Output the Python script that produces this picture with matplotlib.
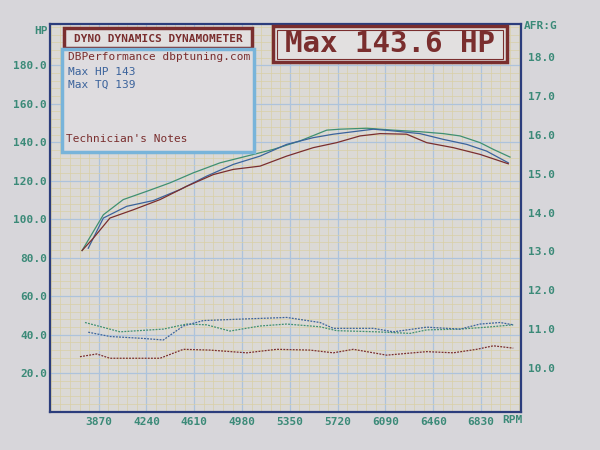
import numpy as np
import matplotlib
matplotlib.use("Agg")
import matplotlib.pyplot as plt
from matplotlib.patches import Rectangle

# ---------------------------------------------------------------------------
# dyno run data (rpm, hp) and (rpm, afr)
# ---------------------------------------------------------------------------
rpm_ticks = [3870, 4240, 4610, 4980, 5350, 5720, 6090, 6460, 6830]
hp_ticks = [20, 40, 60, 80, 100, 120, 140, 160, 180]
afr_ticks = [10, 11, 12, 13, 14, 15, 16, 17, 18]

# power runs
rpm_green = [3741, 3906, 4060, 4242, 4422, 4602, 4809, 5016, 5222, 5428,
             5635, 5738, 5945, 6151, 6357, 6538, 6667, 6822, 6925, 7054]
hp_green = [83.7, 102.3, 110.2, 114.5, 118.9, 124.1, 129.3, 132.8, 136.3, 140.7,
            146.3, 146.8, 147.3, 146.3, 145.5, 144.5, 143.3, 139.8, 136.3, 132.3]

rpm_blue = [3789, 3906, 4087, 4293, 4499, 4706, 4912, 5119, 5325, 5531,
            5686, 5841, 5996, 6151, 6357, 6538, 6719, 6873, 7041]
hp_blue = [84.9, 100.6, 106.7, 109.7, 115.4, 122.4, 128.5, 132.8, 138.9, 142.4,
           144.2, 145.5, 146.8, 145.9, 144.5, 141.5, 138.9, 135.4, 129.3]

rpm_red = [3741, 3828, 3957, 4138, 4345, 4551, 4757, 4912, 5119, 5325, 5531,
           5712, 5893, 6048, 6254, 6409, 6615, 6822, 7041]
hp_red = [83.7, 90.1, 100.6, 104.9, 110.2, 117.1, 123.2, 125.9, 127.6, 132.8, 137.2,
          139.8, 143.3, 144.5, 144.2, 139.8, 137.2, 133.7, 128.8]

# air/fuel ratio runs
rpm_afr_green = [3764, 4035, 4370, 4551, 4706, 4886, 5119, 5325, 5583, 5712,
                 6022, 6280, 6409, 6667, 6873, 7079]
afr_green = [11.17, 10.93, 11.00, 11.13, 11.11, 10.95, 11.08, 11.13, 11.06, 10.96,
             10.93, 10.89, 10.98, 11.00, 11.05, 11.11]

rpm_afr_blue = [3789, 3957, 4215, 4370, 4525, 4680, 4912, 5325, 5583, 5686,
                5996, 6151, 6409, 6667, 6822, 6977, 7079]
afr_blue = [10.92, 10.81, 10.76, 10.72, 11.08, 11.22, 11.25, 11.30, 11.17, 11.02,
            11.02, 10.93, 11.05, 11.00, 11.13, 11.17, 11.11]

rpm_afr_red = [3725, 3855, 3957, 4345, 4525, 4732, 5016, 5248, 5506, 5686,
               5841, 6099, 6409, 6615, 6796, 6925, 7079]
afr_red = [10.29, 10.36, 10.25, 10.25, 10.48, 10.46, 10.39, 10.48, 10.46, 10.39,
           10.48, 10.33, 10.42, 10.39, 10.48, 10.57, 10.51]

# colours
GREEN = "#3f9072"
BLUE = "#3b639c"
RED = "#7a2e2e"
TEAL = "#3b8a78"
FRAME = "#2b3d7c"
PAPER = "#d7d6da"

W, H = 600, 450


def fx(x):
    return x / W


def fy(y):
    return 1 - y / H


plt.rcParams['font.family'] = ['DejaVu Sans Mono']

fig = plt.figure(figsize=(6, 4.5), dpi=100, facecolor=PAPER)
ax = fig.add_axes([fx(50), fy(411.5), (521 - 50) / W, (411.5 - 24) / H])
ax.set_facecolor("#dbd9d6")

ax.set_xlim(3493, 7139)
ax.set_ylim(0, 201.5)

# graph paper grid
ax.set_xticks(rpm_ticks)
ax.set_xticks(np.arange(3870 - 5 * 74, 7200, 74), minor=True)
ax.set_yticks(hp_ticks)
ax.set_yticks(np.arange(0, 201, 4), minor=True)
ax.grid(which="minor", color="#d9cfa6", lw=0.5)
ax.grid(which="major", color="#adc3dc", lw=0.9)
ax.set_axisbelow(True)

ax.set_xticklabels([str(r) for r in rpm_ticks])
ax.set_yticklabels(["%.1f" % v for v in hp_ticks])
ax.tick_params(which="both", length=0)
ax.tick_params(axis="x", colors=TEAL, labelsize=8, pad=4)
ax.tick_params(axis="y", colors=TEAL, labelsize=8, pad=2)
for lab in ax.get_xticklabels() + ax.get_yticklabels():
    lab.set_fontweight("bold")
for s in ax.spines.values():
    s.set_color(FRAME)
    s.set_linewidth(1.6)

# power curves
ax.plot(rpm_green, hp_green, color=GREEN, lw=0.9)
ax.plot(rpm_blue, hp_blue, color=BLUE, lw=0.9)
ax.plot(rpm_red, hp_red, color=RED, lw=0.9)

# AFR on the right hand scale
ax2 = ax.twinx()
ax2.set_ylim(8.88, 18.85)
ax2.set_yticks(afr_ticks)
ax2.set_yticklabels(["%.1f" % v for v in afr_ticks])
ax2.tick_params(length=0, colors=TEAL, labelsize=8, pad=5)
for lab in ax2.get_yticklabels():
    lab.set_fontweight("bold")
for s in ax2.spines.values():
    s.set_visible(False)
ax2.plot(rpm_afr_green, afr_green, color=GREEN, lw=0.9, ls=(0, (1.5, 1)))
ax2.plot(rpm_afr_blue, afr_blue, color=BLUE, lw=0.9, ls=(0, (1.5, 1)))
ax2.plot(rpm_afr_red, afr_red, color=RED, lw=0.9, ls=(0, (1.5, 1)))

# axis names
fig.text(fx(48), fy(31), "HP", color=TEAL, fontsize=8, fontweight="bold",
         ha="right", va="center")
fig.text(fx(524), fy(26), "AFR:G", color=TEAL, fontsize=8, fontweight="bold",
         ha="left", va="center")
fig.text(fx(502), fy(420), "RPM", color=TEAL, fontsize=8, fontweight="bold",
         ha="left", va="center")


def box(x0, y0, x1, y1, ec, lw, fc):
    r = Rectangle((fx(x0), fy(y1)), fx(x1) - fx(x0), fy(y0) - fy(y1),
                  transform=fig.transFigure, ec=ec, fc=fc, lw=lw, zorder=5)
    fig.add_artist(r)


# title box
box(64, 28, 252, 48, RED, 2.5, "#e2e0e0")
fig.text(fx(158), fy(38.5), "DYNO DYNAMICS DYNAMOMETER", color=RED, fontsize=8,
         fontweight="bold", ha="center", va="center", zorder=6)

# notes box
box(62, 49, 254, 152, "#78b4da", 2.5, "#dedcdf")
fig.text(fx(68), fy(57), "DBPerformance dbptuning.com", color=RED, fontsize=8,
         ha="left", va="center", zorder=6)
fig.text(fx(68), fy(72), "Max HP 143", color=BLUE, fontsize=8,
         ha="left", va="center", zorder=6)
fig.text(fx(68), fy(85), "Max TQ 139", color=BLUE, fontsize=8,
         ha="left", va="center", zorder=6)
fig.text(fx(66), fy(139), "Technician's Notes", color=RED, fontsize=8,
         ha="left", va="center", zorder=6)

# peak power box
box(273, 26, 507, 62, RED, 2.5, "#e2e0e0")
box(277, 29.5, 503, 58.5, RED, 0.8, "none")
fig.text(fx(390), fy(44.5), "Max 143.6 HP", color=RED, fontsize=21,
         fontweight="bold", ha="center", va="center", zorder=6)

plt.savefig("out.png", dpi=100, facecolor=PAPER)
